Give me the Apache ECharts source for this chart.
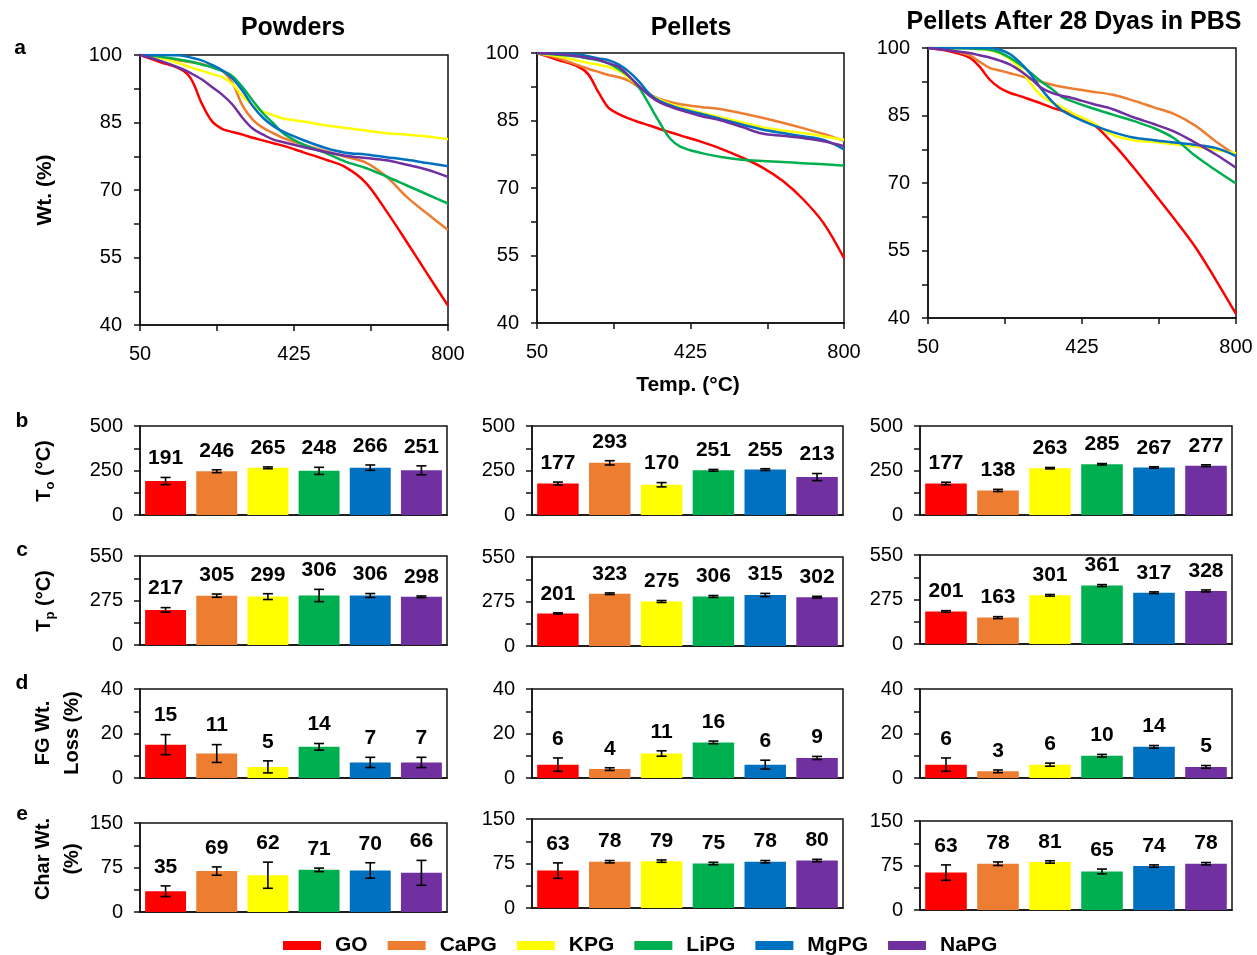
<!DOCTYPE html>
<html>
<head>
<meta charset="utf-8">
<title>Thermal analysis of GO and phosphate glass composites</title>
<script src="https://cdn.jsdelivr.net/npm/echarts@6/dist/echarts.min.js"></script>
<style>
  html, body { margin: 0; padding: 0; background: #ffffff; }
  #chart { width: 1257px; height: 955px; }
</style>
</head>
<body>
<div id="chart"></div>
<script>
// ---- Samples ----
const SAMPLES = ['GO', 'CaPG', 'KPG', 'LiPG', 'MgPG', 'NaPG'];
const COLORS = ['#FF0000', '#ED7D31', '#FFFF00', '#00B050', '#0070C0', '#7030A0'];

// ---- TGA curves: weight (%) vs temperature (°C) ----
const TEMP = [50, 100, 150, 175, 200, 225, 250, 275, 300, 325, 350, 375, 400, 450, 500, 550, 600, 650, 700, 750, 800];

// rows follow SAMPLES order
const WT_POWDERS = [
  [100, 98.4, 96.8, 94.6, 89.3, 85.3, 83.6, 82.9, 82.3, 81.6, 81.0, 80.4, 79.8, 78.3, 76.8, 75.1, 71.6, 65.3, 58.4, 51.3, 44.3],
  [100, 99.4, 98.7, 98.4, 98.0, 97.3, 96.5, 93.8, 88.7, 85.6, 83.8, 82.6, 81.5, 80.0, 78.7, 77.4, 76.1, 73.0, 68.4, 64.7, 61.1],
  [100, 99.3, 98.0, 97.2, 96.5, 95.8, 95.1, 93.6, 90.8, 88.8, 87.4, 86.6, 85.9, 85.2, 84.4, 83.8, 83.2, 82.6, 82.3, 81.9, 81.3],
  [100, 99.6, 98.9, 98.5, 97.9, 97.3, 96.5, 95.3, 92.8, 89.8, 87.0, 84.8, 82.5, 80.0, 78.3, 76.3, 74.9, 73.0, 71.0, 69.0, 67.0],
  [100, 100, 99.9, 99.4, 98.8, 97.8, 96.6, 94.8, 92.0, 88.6, 86.0, 84.2, 82.9, 81.0, 79.4, 78.3, 77.9, 77.3, 76.7, 76.0, 75.3],
  [100, 98.7, 97.0, 95.9, 94.6, 92.9, 91.2, 89.0, 86.0, 83.6, 82.3, 81.2, 80.6, 79.5, 78.5, 77.6, 77.1, 76.6, 75.6, 74.5, 72.9]
];
const WT_PELLETS = [
  [100, 98.5, 97.0, 95.3, 91.3, 87.8, 86.4, 85.4, 84.6, 83.9, 83.1, 82.4, 81.7, 80.3, 78.7, 76.8, 74.6, 71.6, 67.5, 62.2, 54.4],
  [100, 98.9, 97.3, 96.5, 95.8, 95.1, 94.6, 93.8, 92.3, 90.8, 89.8, 89.1, 88.6, 88.0, 87.5, 86.6, 85.6, 84.5, 83.3, 82.0, 80.5],
  [100, 99.3, 98.3, 97.8, 97.4, 96.9, 96.0, 94.4, 92.6, 90.8, 89.6, 88.7, 88.0, 86.8, 85.7, 84.6, 83.5, 82.8, 82.2, 81.5, 80.7],
  [100, 99.6, 99.2, 98.8, 98.4, 97.7, 96.4, 94.8, 92.2, 88.4, 84.5, 81.0, 79.2, 77.8, 76.9, 76.3, 76.0, 75.8, 75.5, 75.3, 75.0],
  [100, 99.9, 99.6, 99.3, 98.8, 98.4, 97.4, 95.8, 93.6, 90.9, 89.3, 88.4, 87.6, 86.5, 85.3, 84.1, 83.0, 82.2, 81.5, 80.7, 78.6],
  [100, 99.8, 99.3, 98.9, 98.5, 97.7, 96.9, 94.8, 92.6, 90.5, 89.0, 88.1, 87.3, 86.0, 85.0, 83.6, 82.1, 81.6, 81.1, 80.4, 79.3]
];
const WT_PBS = [
  [100, 99.3, 97.9, 95.9, 93.0, 91.1, 90.0, 89.3, 88.5, 87.7, 86.8, 86.1, 85.4, 83.2, 78.8, 73.5, 67.8, 62.0, 55.9, 48.6, 40.9],
  [100, 99.6, 98.4, 97.0, 95.6, 95.0, 94.4, 93.8, 93.1, 92.5, 91.9, 91.4, 91.0, 90.3, 89.6, 88.3, 86.8, 85.3, 82.8, 79.3, 76.2],
  [100, 100, 99.9, 99.7, 99.5, 98.8, 97.5, 95.4, 92.1, 89.5, 88.0, 86.9, 85.6, 83.4, 80.7, 79.5, 79.1, 78.6, 78.1, 77.4, 76.6],
  [100, 100, 99.9, 99.8, 99.6, 99.0, 97.8, 96.3, 94.5, 92.6, 91.0, 89.2, 88.2, 86.6, 85.2, 83.8, 82.2, 79.9, 76.1, 72.9, 69.9],
  [100, 100, 100, 100, 100, 99.6, 98.6, 96.7, 94.2, 91.0, 88.3, 86.2, 84.9, 82.9, 81.3, 80.1, 79.5, 79.0, 78.5, 77.8, 76.0],
  [100, 99.5, 98.9, 98.4, 97.9, 97.2, 96.3, 94.9, 93.2, 91.2, 90.1, 89.4, 88.9, 87.6, 86.4, 84.6, 83.1, 81.4, 79.0, 76.4, 73.4]
];

// ---- Onset temperature T_o (°C) ----
const TO_POWDERS = [191, 246, 265, 248, 266, 251];
const TO_POWDERS_ERR = [20, 8, 5, 20, 15, 25];
const TO_PELLETS = [177, 293, 170, 251, 255, 213];
const TO_PELLETS_ERR = [8, 12, 12, 5, 5, 20];
const TO_PBS = [177, 138, 263, 285, 267, 277];
const TO_PBS_ERR = [7, 6, 4, 4, 4, 5];

// ---- Peak temperature T_p (°C) ----
const TP_POWDERS = [217, 305, 299, 306, 306, 298];
const TP_POWDERS_ERR = [14, 10, 18, 38, 12, 5];
const TP_PELLETS = [201, 323, 275, 306, 315, 302];
const TP_PELLETS_ERR = [4, 5, 6, 6, 10, 5];
const TP_PBS = [201, 163, 301, 361, 317, 328];
const TP_PBS_ERR = [5, 6, 5, 6, 5, 6];

// ---- Functional-group weight loss (%) ----
const FG_POWDERS = [15, 11, 5, 14, 7, 7];
const FG_POWDERS_ERR = [4.5, 4, 2.7, 1.5, 2.3, 2.3];
const FG_PELLETS = [6, 4, 11, 16, 6, 9];
const FG_PELLETS_ERR = [3, 0.6, 1.2, 0.6, 2, 0.7];
const FG_PBS = [6, 3, 6, 10, 14, 5];
const FG_PBS_ERR = [3, 0.6, 0.7, 0.6, 0.6, 0.6];

// ---- Char weight (%) ----
const CHAR_POWDERS = [35, 69, 62, 71, 70, 66];
const CHAR_POWDERS_ERR = [9, 7, 22, 3, 13, 21];
const CHAR_PELLETS = [63, 78, 79, 75, 78, 80];
const CHAR_PELLETS_ERR = [13, 2, 2, 2, 2, 2];
const CHAR_PBS = [63, 78, 81, 65, 74, 78];
const CHAR_PBS_ERR = [13, 3, 2, 4, 2, 2];

// ---- Layout ----
const FONT = "'Liberation Sans', Arial, Helvetica, sans-serif";
const AXIS_COLOR = '#111';

const LINE_GRIDS = [
  { left: 140, top: 55, width: 308, height: 270 },
  { left: 537, top: 53, width: 307, height: 270 },
  { left: 928, top: 48, width: 308, height: 270 }
];
const BAR_COLS = [
  { left: 140, width: 307, tops: [426, 556, 689, 823] },
  { left: 532, width: 311, tops: [426, 557, 689, 819] },
  { left: 920, width: 312, tops: [426, 555, 689, 821] }
];
const BAR_HEIGHT = 89;

const WT_SETS = [WT_POWDERS, WT_PELLETS, WT_PBS];
const BAR_ROWS = [
  { vals: [TO_POWDERS, TO_PELLETS, TO_PBS], errs: [TO_POWDERS_ERR, TO_PELLETS_ERR, TO_PBS_ERR],
    max: 500, labels: [0, 250, 500], ticks: [0, 125, 250, 375, 500] },
  { vals: [TP_POWDERS, TP_PELLETS, TP_PBS], errs: [TP_POWDERS_ERR, TP_PELLETS_ERR, TP_PBS_ERR],
    max: 550, labels: [0, 275, 550], ticks: [0, 137.5, 275, 412.5, 550] },
  { vals: [FG_POWDERS, FG_PELLETS, FG_PBS], errs: [FG_POWDERS_ERR, FG_PELLETS_ERR, FG_PBS_ERR],
    max: 40, labels: [0, 20, 40], ticks: [0, 10, 20, 30, 40] },
  { vals: [CHAR_POWDERS, CHAR_PELLETS, CHAR_PBS], errs: [CHAR_POWDERS_ERR, CHAR_PELLETS_ERR, CHAR_PBS_ERR],
    max: 150, labels: [0, 75, 150], ticks: [0, 37.5, 75, 112.5, 150] }
];

const grid = [], xAxis = [], yAxis = [], series = [];

function axisBase(margin) {
  return {
    axisLine: { show: true, lineStyle: { color: AXIS_COLOR, width: 1.5 } },
    splitLine: { show: false },
    axisLabel: { color: '#000', fontSize: 20, fontFamily: FONT, margin: margin },
    axisTick: { show: true, inside: false, length: 6, lineStyle: { color: AXIS_COLOR, width: 1.5 } }
  };
}

// TGA line panels
LINE_GRIDS.forEach((g, c) => {
  const gi = grid.length;
  grid.push(Object.assign({ show: true, borderColor: AXIS_COLOR, borderWidth: 1.5, backgroundColor: 'transparent' }, g));
  const xa = axisBase(19);
  xAxis.push(Object.assign(xa, {
    type: 'value', gridIndex: gi, min: 50, max: 800,
    axisLabel: Object.assign(xa.axisLabel, { customValues: [50, 425, 800] }),
    axisTick: Object.assign(xa.axisTick, { customValues: [50, 237.5, 425, 612.5, 800] })
  }));
  const ya = axisBase(18);
  yAxis.push(Object.assign(ya, {
    type: 'value', gridIndex: gi, min: 40, max: 100,
    axisLabel: Object.assign(ya.axisLabel, { customValues: [40, 55, 70, 85, 100] }),
    axisTick: Object.assign(ya.axisTick, { customValues: [40, 47.5, 55, 62.5, 70, 77.5, 85, 92.5, 100] })
  }));
  WT_SETS[c].forEach((wt, k) => {
    series.push({
      type: 'line', name: SAMPLES[k], xAxisIndex: gi, yAxisIndex: gi,
      data: TEMP.map((t, j) => [t, wt[j]]),
      smooth: 0.35, showSymbol: false, symbol: 'none',
      color: COLORS[k],
      lineStyle: { color: COLORS[k], width: 2.5 },
      emphasis: { disabled: true }, silent: true
    });
  });
});

// Bar panels with error bars and value labels
function errorBarRenderer(params, api) {
  const i = api.value(0), v = api.value(1), e = api.value(2);
  const top = api.coord([i, v + e]);
  const bot = api.coord([i, Math.max(0, v - e)]);
  const x = top[0];
  const cap = 5;
  const ls = { stroke: '#000', lineWidth: 1.6 };
  return {
    type: 'group',
    children: [
      { type: 'line', shape: { x1: x, y1: top[1], x2: x, y2: bot[1] }, style: ls },
      { type: 'line', shape: { x1: x - cap, y1: top[1], x2: x + cap, y2: top[1] }, style: ls },
      { type: 'line', shape: { x1: x - cap, y1: bot[1], x2: x + cap, y2: bot[1] }, style: ls },
      { type: 'text', x: x, y: top[1] - 19,
        style: { text: String(v), fill: '#000', fontSize: 21, fontWeight: 'bold', fontFamily: FONT,
                 align: 'center', verticalAlign: 'middle' } }
    ]
  };
}

BAR_ROWS.forEach((row, r) => {
  BAR_COLS.forEach((col, c) => {
    const gi = grid.length;
    grid.push({ show: true, borderColor: AXIS_COLOR, borderWidth: 1.5, backgroundColor: 'transparent',
                left: col.left, width: col.width, top: col.tops[r], height: BAR_HEIGHT });
    const xa = axisBase(8);
    xAxis.push(Object.assign(xa, {
      type: 'category', gridIndex: gi, data: SAMPLES,
      axisLabel: { show: false }, axisTick: { show: false }
    }));
    const ya = axisBase(17);
    yAxis.push(Object.assign(ya, {
      type: 'value', gridIndex: gi, min: 0, max: row.max,
      axisLabel: Object.assign(ya.axisLabel, { customValues: row.labels }),
      axisTick: Object.assign(ya.axisTick, { customValues: row.ticks })
    }));
    const vals = row.vals[c], errs = row.errs[c];
    series.push({
      type: 'bar', name: 'bars-' + r + '-' + c, xAxisIndex: gi, yAxisIndex: gi,
      barCategoryGap: '20%',
      data: vals.map((v, i) => ({ value: v, itemStyle: { color: COLORS[i] } })),
      emphasis: { disabled: true }, silent: true
    });
    series.push({
      type: 'custom', name: 'err-' + r + '-' + c, xAxisIndex: gi, yAxisIndex: gi,
      data: vals.map((v, i) => [i, v, errs[i]]),
      renderItem: errorBarRenderer, z: 5, silent: true, clip: false
    });
  });
});

// Titles, panel letters and axis names
function txt(text, x, y, size, extra) {
  return {
    type: 'text', x: x, y: y, silent: true,
    style: Object.assign({ text: text, fill: '#000', fontSize: size, fontWeight: 'bold', fontFamily: FONT,
                           align: 'center', verticalAlign: 'middle' }, extra || {})
  };
}
function vtxt(text, x, y, size, extra) {
  const t = txt(text, x, y, size, extra);
  t.rotation = Math.PI / 2;
  return t;
}
const subRich = {
  m: { fontSize: 20, fontWeight: 'bold', fontFamily: FONT, lineHeight: 26, fill: '#000' },
  s: { fontSize: 13, fontWeight: 'bold', fontFamily: FONT, lineHeight: 13, verticalAlign: 'bottom', fill: '#000' }
};

const graphic = [
  txt('Powders', 293, 28, 25),
  txt('Pellets', 691, 28, 25),
  txt('Pellets After 28 Dyas in PBS', 1074, 22, 25),
  txt('a', 20, 48, 21),
  txt('b', 22, 421, 21),
  txt('c', 22, 550, 21),
  txt('d', 22, 683, 21),
  txt('e', 22, 814, 21),
  vtxt('Wt. (%)', 45, 190, 21),
  txt('Temp. (°C)', 688, 385, 21),
  vtxt('{m|T}{s|o}{m| (°C)}', 44, 471, 20, { rich: subRich }),
  vtxt('{m|T}{s|p}{m| (°C)}', 44, 601, 20, { rich: subRich }),
  vtxt('FG Wt.\nLoss (%)', 58, 733, 20, { lineHeight: 29 }),
  vtxt('Char Wt.\n(%)', 58, 859, 20, { lineHeight: 29 })
];

const chart = echarts.init(document.getElementById('chart'), null, { renderer: 'canvas' });
chart.setOption({
  backgroundColor: '#ffffff',
  animation: false,
  grid: grid,
  xAxis: xAxis,
  yAxis: yAxis,
  series: series,
  graphic: graphic,
  legend: {
    data: SAMPLES, top: 930, left: 278,
    icon: 'rect', itemWidth: 38, itemHeight: 9, itemGap: 20,
    selectedMode: false,
    textStyle: { color: '#000', fontSize: 21, fontWeight: 'bold', fontFamily: FONT, padding: [0, 0, 0, 9] }
  }
});
</script>
</body>
</html>
